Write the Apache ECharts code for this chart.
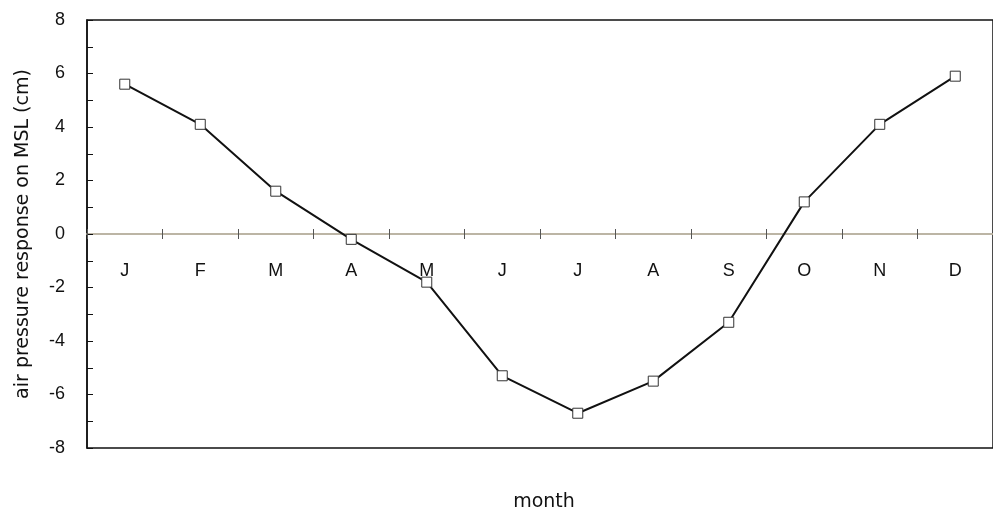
<!DOCTYPE html>
<html>
<head>
<meta charset="utf-8">
<script src="https://cdn.jsdelivr.net/npm/echarts@6/dist/echarts.min.js"></script>
<style>
  html, body { margin: 0; padding: 0; background: #fff; }
  #chart { width: 993px; height: 510px; }
</style>
</head>
<body>
<div id="chart"></div>
<script>
// Monthly air pressure response on mean sea level (cm)
const months = ['J', 'F', 'M', 'A', 'M', 'J', 'J', 'A', 'S', 'O', 'N', 'D'];
const response = [5.6, 4.1, 1.6, -0.2, -1.8, -5.3, -6.7, -5.5, -3.3, 1.2, 4.1, 5.9];
const yTicks = { min: -8, max: 8, step: 2 };

const chart = echarts.init(document.getElementById('chart'), null, { renderer: 'canvas' });

const plotLeft = 87, plotRight = -10, plotTop = 20, plotHeight = 428;
const zeroLineStyle = { color: '#b9b1a0', width: 1.5 };
const tickStyle = { color: '#555', width: 1 };

chart.setOption({
  animation: false,
  grid: [
    // main plot frame
    { left: plotLeft, right: plotRight, top: plotTop, height: plotHeight,
      show: true, borderColor: '#111', borderWidth: 1.5, backgroundColor: 'transparent' },
    // upper half: its bottom edge sits on the zero line and carries the month labels
    { left: plotLeft, right: plotRight, top: plotTop, height: plotHeight / 2 }
  ],
  xAxis: [
    {
      gridIndex: 0,
      type: 'category',
      data: months,
      boundaryGap: true,
      axisLine: { onZero: true, lineStyle: zeroLineStyle },
      axisTick: { show: true, inside: true, length: 5, lineStyle: tickStyle },
      axisLabel: { show: false }
    },
    {
      gridIndex: 1,
      type: 'category',
      data: months,
      boundaryGap: true,
      axisLine: { onZero: false, lineStyle: zeroLineStyle },
      axisTick: { show: true, inside: false, length: 5, lineStyle: tickStyle },
      axisLabel: { margin: 28, color: '#111', fontFamily: 'Liberation Sans, Arial', fontSize: 18 }
    }
  ],
  yAxis: [
    {
      gridIndex: 0,
      type: 'value',
      min: yTicks.min, max: yTicks.max, interval: yTicks.step,
      axisLine: { show: true, onZero: false, lineStyle: { color: '#111', width: 1.5 } },
      axisTick: { show: true, inside: true, length: 6, lineStyle: { color: '#111', width: 1 } },
      minorTick: { show: true, splitNumber: 2, length: 6, lineStyle: { color: '#111', width: 1 } },
      splitLine: { show: false },
      axisLabel: { margin: 22, color: '#111', fontFamily: 'Liberation Sans, Arial', fontSize: 18 },
      name: 'air pressure response on MSL (cm)',
      nameLocation: 'middle',
      nameGap: 54,
      nameTextStyle: { fontFamily: 'DejaVu Sans', fontSize: 19, color: '#111' }
    },
    {
      gridIndex: 1,
      type: 'value',
      min: 0, max: yTicks.max, interval: yTicks.step,
      axisLine: { show: false },
      axisTick: { show: false },
      axisLabel: { show: false },
      splitLine: { show: false }
    }
  ],
  graphic: [{
    type: 'text',
    x: 544, y: 502,
    style: {
      text: 'month', font: '19px "DejaVu Sans"', fill: '#111',
      textAlign: 'center', textVerticalAlign: 'middle'
    }
  }],
  series: [{
    type: 'line',
    xAxisIndex: 0,
    yAxisIndex: 0,
    data: response,
    symbol: 'rect',
    symbolSize: 10,
    lineStyle: { color: '#111', width: 2 },
    itemStyle: { color: '#fff', borderColor: '#333', borderWidth: 1 },
    z: 5
  }]
});
</script>
</body>
</html>
